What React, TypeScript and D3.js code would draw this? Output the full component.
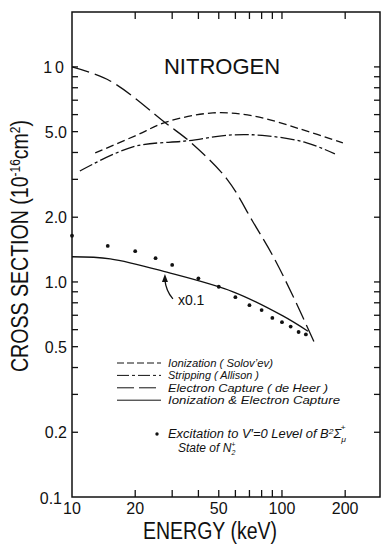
import * as d3 from 'd3';
import React from 'react';

// values (energy in keV, cross section in 1e-16 cm^2)
const ionEnergy = [12.9, 20, 28.3, 46.9, 72.8, 121.8, 195];
const ionSigma = [3.98, 4.78, 5.55, 6.11, 5.92, 5.15, 4.43];

const stripEnergy = [10.9, 19.5, 35.3, 58.5, 84.9, 130, 178.7];
const stripSigma = [3.28, 4.25, 4.53, 4.83, 4.78, 4.45, 3.94];

const captureEnergy = [10, 15.2, 28.3, 36.5, 54.7, 72.8, 90.6, 112.8, 143.6];
const captureSigma = [10, 8.6, 5.43, 4.48, 3.01, 1.9, 1.32, 0.86, 0.515];

const totalEnergy = [10, 15.2, 28.3, 58.5, 101, 133];
const totalSigma = [1.31, 1.28, 1.11, 0.9, 0.695, 0.59];

const excEnergy = [10, 14.8, 20, 25, 30, 40, 50, 60, 70, 80, 90, 100, 110, 120, 130];
const excSigma = [1.64, 1.47, 1.39, 1.29, 1.2, 1.04, 0.95, 0.85, 0.78, 0.74, 0.68, 0.65, 0.62, 0.585, 0.57];

const xTicks = [20, 30, 40, 50, 60, 70, 80, 90, 100, 200];
const xLabels = [10, 20, 50, 100, 200];
const yTicks = [0.2, 0.3, 0.4, 0.5, 0.6, 0.7, 0.8, 0.9, 1, 2, 3, 4, 5, 6, 7, 8, 9, 10];
const yLabels = [
  { v: 0.1, t: '0.1' },
  { v: 0.2, t: '0.2' },
  { v: 0.5, t: '0.5' },
  { v: 1, t: '1.0' },
  { v: 2, t: '2.0' },
  { v: 5, t: '5.0' },
  { v: 10, t: '10' },
];

const legendItems = [
  { label: 'Ionization ( Solov\u2019ev)', dash: '7,3', len: 105 },
  { label: 'Stripping ( Allison )', dash: '12,3,3,3', len: 91 },
  { label: 'Electron Capture ( de Heer )', dash: '17,5', len: 160 },
  { label: 'Ionization & Electron Capture', dash: null, len: 172 },
];

const width = 383;
const height = 545;
const margin = { top: 12, right: 3, bottom: 48, left: 72 };
const font = '"Liberation Sans", Arial, sans-serif';
const ink = '#111';

const App = () => {
  const x = d3
    .scaleLog()
    .domain([10, 293])
    .range([margin.left, width - margin.right]);
  const y = d3
    .scaleLog()
    .domain([0.1, 18])
    .range([height - margin.bottom, margin.top]);

  const line = d3
    .line<[number, number]>()
    .x(d => x(d[0]))
    .y(d => y(d[1]))
    .curve(d3.curveCatmullRom);

  const zip = (a: number[], b: number[]) => a.map((v, i) => [v, b[i]] as [number, number]);

  const x0 = x.range()[0];
  const x1 = x.range()[1];
  const y0 = y.range()[0];
  const y1 = y.range()[1];

  // arrow pointing at the solid curve
  const tipX = x(27.7);
  const tipY = y(1.09);
  const arrow = d3.path();
  arrow.moveTo(tipX + 8, tipY + 25);
  arrow.quadraticCurveTo(tipX + 1, tipY + 17, tipX, tipY + 6);

  const legX = 117;
  const legY = 363;
  const rowH = 12.4;

  return (
    <svg width={width} height={height} style={{ position: 'absolute', left: 0, top: 0, background: '#fff' }}>
      {/* frame */}
      <rect x={x0} y={y1} width={x1 - x0} height={y0 - y1} fill="none" stroke={ink} strokeWidth={1.5} />

      {/* x ticks top and bottom */}
      {xTicks.map(t => (
        <g key={'xt' + t}>
          <line x1={x(t)} x2={x(t)} y1={y0} y2={y0 - 7} stroke={ink} strokeWidth={1.3} />
          <line x1={x(t)} x2={x(t)} y1={y1} y2={y1 + 7} stroke={ink} strokeWidth={1.3} />
        </g>
      ))}
      {xLabels.map(t => (
        <text key={'xl' + t} x={x(t)} y={514} textAnchor="middle" fontFamily={font} fontSize={16} fill={ink}>
          {t}
        </text>
      ))}

      {/* y ticks left and right */}
      {yTicks.map(t => (
        <g key={'yt' + t}>
          <line x1={x0} x2={x0 + 6} y1={y(t)} y2={y(t)} stroke={ink} strokeWidth={1.3} />
          <line x1={x1} x2={x1 - 6} y1={y(t)} y2={y(t)} stroke={ink} strokeWidth={1.3} />
        </g>
      ))}
      {yLabels.map(d => (
        <text
          key={'yl' + d.t}
          x={d.v === 0.1 ? 62 : 67}
          y={y(d.v) + (d.v === 0.1 ? 7 : 6)}
          textAnchor="end"
          fontFamily={font}
          fontSize={16}
          fill={ink}
          letterSpacing={d.t === '10' ? 3 : 0}
        >
          {d.t}
        </text>
      ))}

      {/* axis titles */}
      <text x={210} y={539} textAnchor="middle" fontFamily={font} fontSize={23} fill={ink} textLength={134} lengthAdjust="spacingAndGlyphs">
        ENERGY (keV)
      </text>
      <text
        transform="translate(28,246) rotate(-90)"
        textAnchor="middle"
        fontFamily={font}
        fontSize={23}
        fill={ink}
        textLength={252}
        lengthAdjust="spacingAndGlyphs"
      >
        CROSS SECTION (10<tspan baselineShift="super" fontSize={14}>-16</tspan>cm<tspan baselineShift="super" fontSize={14}>2</tspan>)
      </text>

      <text x={222} y={74} textAnchor="middle" fontFamily={font} fontSize={22} fill={ink}>
        NITROGEN
      </text>

      {/* curves */}
      <g fill="none" stroke={ink} strokeWidth={1.3}>
        <path d={line(zip(ionEnergy, ionSigma)) || ''} strokeDasharray="8,4" />
        <path d={line(zip(stripEnergy, stripSigma)) || ''} strokeDasharray="14,3,3,3" />
        <path d={line(zip(captureEnergy, captureSigma)) || ''} strokeDasharray="18,6" />
        <path d={line(zip(totalEnergy, totalSigma)) || ''} />
      </g>

      {/* excitation points */}
      {excEnergy.map((e, i) => (
        <circle key={'p' + e} cx={x(e)} cy={y(excSigma[i])} r={1.9} fill={ink} />
      ))}

      {/* x0.1 annotation */}
      <path d={arrow.toString()} fill="none" stroke={ink} strokeWidth={1.3} />
      <path d={`M${tipX},${tipY} L${tipX - 3},${tipY + 8} L${tipX + 3},${tipY + 8} Z`} fill={ink} />
      <text x={tipX + 13} y={tipY + 31} fontFamily={font} fontSize={14} fill={ink}>
        x0.1
      </text>

      {/* legend */}
      {legendItems.map((d, i) => (
        <g key={d.label}>
          <line
            x1={legX}
            x2={legX + 44}
            y1={legY + i * rowH}
            y2={legY + i * rowH}
            stroke={ink}
            strokeWidth={1}
            strokeDasharray={d.dash || undefined}
          />
          <text
            x={legX + 51}
            y={legY + i * rowH + 4}
            fontFamily={font}
            fontStyle="italic"
            fontSize={11}
            fill={ink}
            textLength={d.len}
            lengthAdjust="spacingAndGlyphs"
          >
            {d.label}
          </text>
        </g>
      ))}
      <circle cx={157} cy={434} r={1.7} fill={ink} />
      <text x={168} y={438} fontFamily={font} fontStyle="italic" fontSize={12} fill={ink} textLength={178} lengthAdjust="spacingAndGlyphs">
        Excitation to V{'\u2032'}=0 Level of B<tspan baselineShift="super" fontSize={8}>2</tspan>{'\u03A3'}
        <tspan dy={4} fontSize={8}>{'\u03BC'}</tspan>
        <tspan dx={-5} dy={-12} fontSize={8}>+</tspan>
      </text>
      <text x={178} y={452} fontFamily={font} fontStyle="italic" fontSize={12} fill={ink}>
        State of N<tspan dy={3} fontSize={7}>2</tspan>
        <tspan dx={-4} dy={-8} fontSize={7}>+</tspan>
      </text>
    </svg>
  );
};

export default App;
